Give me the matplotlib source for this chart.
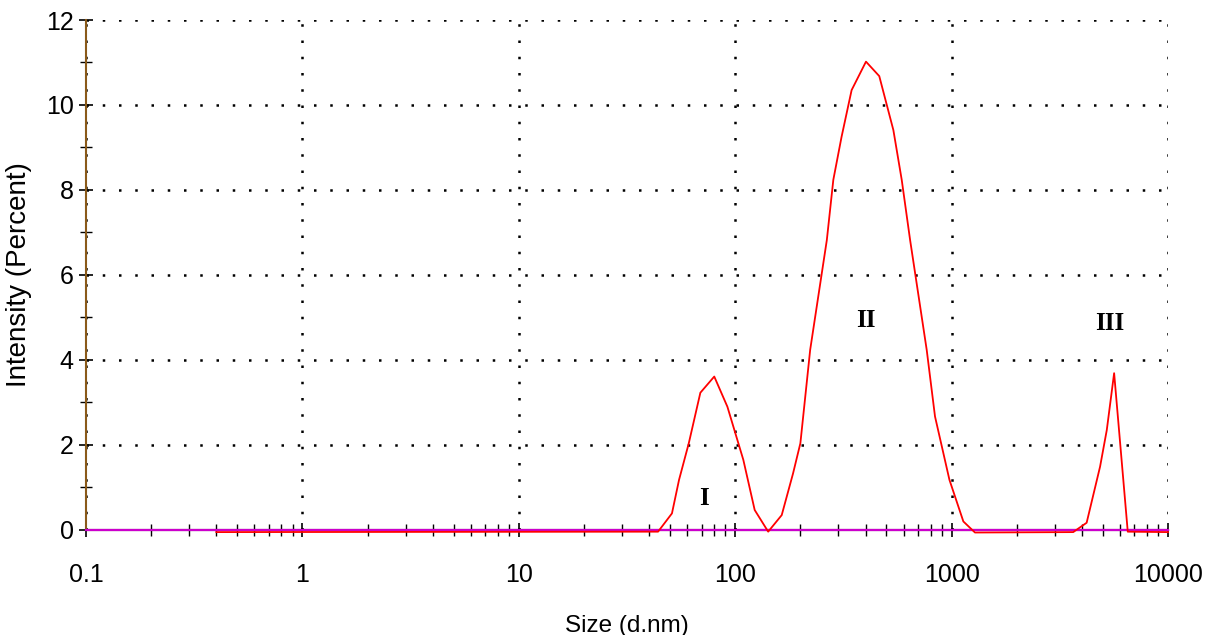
import numpy as np
import matplotlib.pyplot as plt
from matplotlib.ticker import LogLocator, FixedLocator, NullFormatter

plt.rcParams['font.family'] = ['Liberation Sans', 'DejaVu Sans']

# size distribution (d.nm, percent)
size = [0.4, 44, 51, 55, 61, 69, 80, 92, 109, 123, 142, 164, 185, 200, 222,
        265, 284, 310, 345, 402, 463, 538, 588, 643, 767, 838, 977, 1133, 1282,
        3648, 4207, 4853, 5212, 5636, 6516, 10000]
intensity = [-0.05, -0.04, 0.39, 1.18, 2.04, 3.23, 3.61, 2.9, 1.65, 0.47, -0.04,
             0.35, 1.33, 2.04, 4.24, 6.82, 8.24, 9.25, 10.35, 11.02, 10.68, 9.41,
             8.24, 6.82, 4.24, 2.67, 1.18, 0.2, -0.06, -0.05, 0.17, 1.49, 2.35,
             3.69, -0.04, -0.05]

peak_labels = ['I', 'II', 'III']
peak_x = [72, 402, 5400]
peak_y = [0.75, 4.94, 4.87]

fig = plt.figure(figsize=(12.07, 6.35), dpi=100)
ax = fig.add_axes([0.0713, 0.1654, 0.8964, 0.8031])

ax.plot([0.1, 10000], [0, 0], color='#cc00cc', lw=1.6, zorder=3, clip_on=False)
ax.plot(size, intensity, color='red', lw=1.3, zorder=4, clip_on=False)

ax.set_xscale('log')
ax.set_xlim(0.1, 10000)
ax.set_ylim(0, 12)

ax.xaxis.set_major_locator(FixedLocator([0.1, 1, 10, 100, 1000, 10000]))
ax.set_xticklabels(['0.1', '1', '10', '100', '1000', '10000'])
ax.xaxis.set_minor_locator(LogLocator(base=10, subs=np.arange(2, 10)))
ax.xaxis.set_minor_formatter(NullFormatter())
ax.set_yticks(range(0, 13, 2))
ax.set_yticks(range(1, 12, 2), minor=True)

ax.tick_params(axis='both', which='major', direction='inout', length=10,
               width=1.2, labelsize=18)
ax.tick_params(axis='x', which='major', pad=19)
ax.tick_params(axis='y', which='major', pad=4)
ax.tick_params(axis='both', which='minor', direction='inout', length=8, width=1)

ax.grid(True, which='major', color='black', linestyle=(0, (1, 5.5)), lw=1.8)

for s in ['top', 'right']:
    ax.spines[s].set_visible(False)
ax.spines['left'].set_color('#8a5a1a')
ax.spines['left'].set_linewidth(1.5)
ax.spines['bottom'].set_color('black')
ax.spines['bottom'].set_linewidth(1.5)

ax.set_xlabel('Size (d.nm)', fontsize=17.5, labelpad=20)
ax.set_ylabel('Intensity (Percent)', fontsize=20, labelpad=10)

for lab, xx, yy in zip(peak_labels, peak_x, peak_y):
    ax.text(xx, yy, lab, fontsize=18, fontweight='bold', family='Liberation Serif',
            ha='center', va='center', zorder=5)

fig.savefig('out.png', dpi=100)
